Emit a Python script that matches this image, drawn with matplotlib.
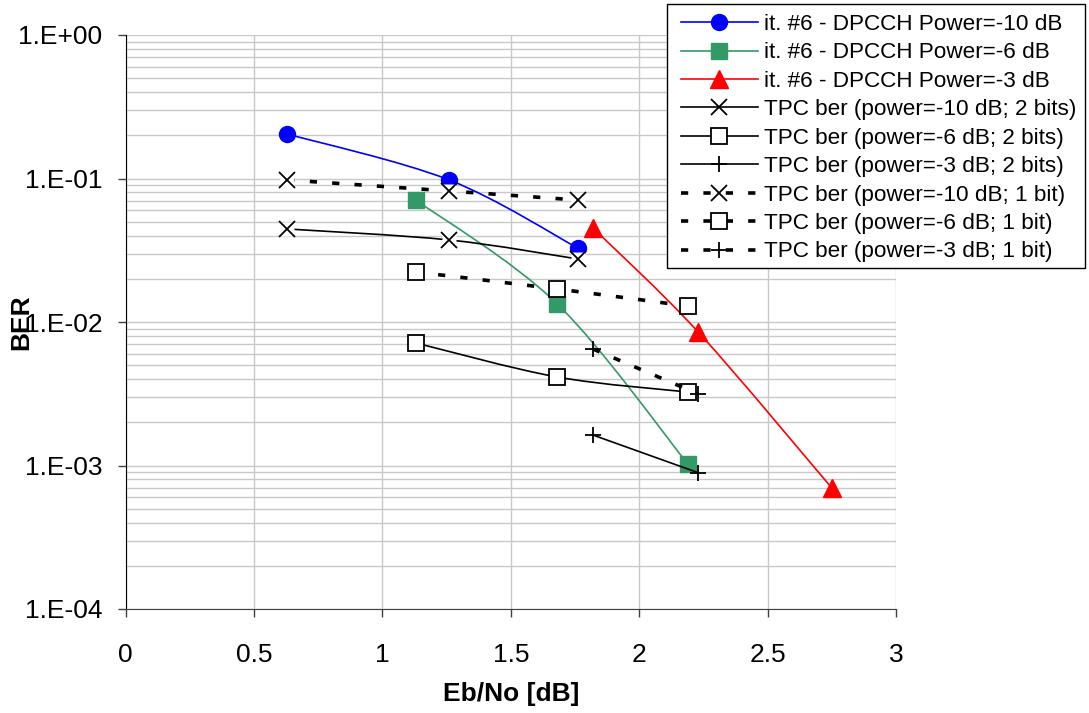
import numpy as np
import matplotlib
matplotlib.use("Agg")
import matplotlib.pyplot as plt
from matplotlib.path import Path
from matplotlib.patches import PathPatch, Rectangle
from matplotlib.lines import Line2D
from matplotlib.ticker import FixedLocator, LogLocator, NullFormatter

plt.rcParams['font.family'] = ['Liberation Sans', 'DejaVu Sans']

# ---------------- data ----------------
x_p10 = [0.63, 1.26, 1.76]
x_p6 = [1.13, 1.68, 2.19]
x_p3 = [1.82, 2.23, 2.75]
x_p3_tpc = [1.82, 2.23]

ber_it6_p10 = [0.204, 0.0977, 0.0328]
ber_it6_p6 = [0.0708, 0.0134, 0.00102]
ber_it6_p3 = [0.0452, 0.0085, 0.000697]

tpc2_p10 = [0.0445, 0.0373, 0.0275]
tpc2_p6 = [0.00714, 0.00414, 0.00325]
tpc2_p3 = [0.00163, 0.00089]

tpc1_p10 = [0.0977, 0.0818, 0.0708]
tpc1_p6 = [0.0223, 0.0170, 0.0129]
tpc1_p3 = [0.00648, 0.00315]

labels = [
    "it. #6 - DPCCH Power=-10 dB",
    "it. #6 - DPCCH Power=-6 dB",
    "it. #6 - DPCCH Power=-3 dB",
    "TPC ber (power=-10 dB; 2 bits)",
    "TPC ber (power=-6 dB; 2 bits)",
    "TPC ber (power=-3 dB; 2 bits)",
    "TPC ber (power=-10 dB; 1 bit)",
    "TPC ber (power=-6 dB; 1 bit)",
    "TPC ber (power=-3 dB; 1 bit)",
]
xticks = [0, 0.5, 1, 1.5, 2, 2.5, 3]
xticklabels = ["0", "0.5", "1", "1.5", "2", "2.5", "3"]
yticks = [1e0, 1e-1, 1e-2, 1e-3, 1e-4]
yticklabels = ["1.E+00", "1.E-01", "1.E-02", "1.E-03", "1.E-04"]

# ---------------- figure ----------------
W, H = 1089, 713
fig = plt.figure(figsize=(W / 100, H / 100), dpi=100)
ax = fig.add_axes([125.7 / W, 1 - 609 / H, (896 - 125.7) / W, (609 - 35) / H])
ax.set_yscale('log')
ax.set_xlim(0, 3)
ax.set_ylim(1e-4, 1)

grid_c = '#c8c8c8'
ax.xaxis.set_major_locator(FixedLocator(xticks))
ax.set_xticklabels(xticklabels)
ax.yaxis.set_major_locator(FixedLocator(yticks))
ax.set_yticklabels(yticklabels)
ax.yaxis.set_minor_locator(LogLocator(base=10, subs=np.arange(2, 10)))
ax.yaxis.set_minor_formatter(NullFormatter())
ax.grid(True, which='major', axis='both', color=grid_c, lw=1.0)
ax.grid(True, which='minor', axis='y', color=grid_c, lw=1.0)
ax.set_axisbelow(True)
ax.tick_params(axis='both', which='major', direction='out', length=6, width=1,
               labelsize=19, color='#404040')
ax.tick_params(axis='y', which='major', pad=10.8)
ax.tick_params(axis='x', which='major', pad=18.5)
ax.tick_params(axis='y', which='minor', length=0)
for s in ['top', 'right']:
    ax.spines[s].set_visible(False)
ax.spines['left'].set_color('black')
ax.spines['bottom'].set_color('#404040')

ax.set_xlabel("Eb/No [dB]", fontsize=19, fontweight='bold')
ax.set_ylabel("BER", fontsize=19, fontweight='bold')
ax.xaxis.set_label_coords(0.5, -0.127)
ax.yaxis.set_label_coords(-0.120, 0.5)


def smooth_path(xs, ys):
    lx = np.asarray(xs, float)
    ly = np.log10(np.asarray(ys, float))
    n = len(lx)
    verts = [(lx[0], ly[0])]
    codes = [Path.MOVETO]
    for i in range(n - 1):
        p0 = i - 1 if i > 0 else i
        p3 = i + 2 if i + 2 < n else i + 1
        c1 = (lx[i] + (lx[i + 1] - lx[p0]) / 6, ly[i] + (ly[i + 1] - ly[p0]) / 6)
        c2 = (lx[i + 1] - (lx[p3] - lx[i]) / 6, ly[i + 1] - (ly[p3] - ly[i]) / 6)
        verts += [c1, c2, (lx[i + 1], ly[i + 1])]
        codes += [Path.CURVE4] * 3
    verts = np.array(verts)
    verts[:, 1] = 10 ** verts[:, 1]
    return Path(verts, codes)


dots = (0, (2.0, 4.2))
series = [
    # x, y, color, lw, ls, marker, ms, mfc, mec, mew, whitebg
    (x_p10, ber_it6_p10, '#0000ff', 1.2, '-', 'o', 11.5, '#0000ff', '#0000ff', 1.0, False),
    (x_p6, ber_it6_p6, '#339966', 1.2, '-', 's', 11.5, '#339966', '#339966', 1.0, False),
    (x_p3, ber_it6_p3, '#ff0000', 1.2, '-', '^', 12.5, '#ff0000', '#ff0000', 1.0, False),
    (x_p10, tpc2_p10, 'black', 1.2, '-', 'x', 11, 'none', 'black', 1.3, True),
    (x_p6, tpc2_p6, 'black', 1.2, '-', 's', 11, 'white', 'black', 1.3, False),
    (x_p3_tpc, tpc2_p3, 'black', 1.2, '-', '+', 12, 'none', 'black', 1.3, False),
    (x_p10, tpc1_p10, 'black', 2.6, dots, 'x', 11, 'none', 'black', 1.3, True),
    (x_p6, tpc1_p6, 'black', 2.6, dots, 's', 11, 'white', 'black', 1.3, False),
    (x_p3_tpc, tpc1_p3, 'black', 2.6, dots, '+', 12, 'none', 'black', 1.3, False),
]

handles = []
for k, (xs, ys, c, lw, ls, mk, ms, mfc, mec, mew, wbg) in enumerate(series):
    z = 3 + k
    patch = PathPatch(smooth_path(xs, ys), fill=False, edgecolor=c, lw=lw,
                      linestyle=ls, transform=ax.transData, zorder=z, capstyle='butt')
    ax.add_patch(patch)
    if wbg:
        ax.plot(xs, ys, linestyle='none', marker='s', ms=ms * 0.95, mfc='white',
                mec='none', zorder=z + 0.3)
    ax.plot(xs, ys, linestyle='none', marker=mk, ms=ms, mfc=mfc, mec=mec,
            mew=mew, zorder=z + 0.5)
    handles.append(Line2D([], [], color=c, lw=lw, linestyle=ls, marker=mk, ms=ms,
                          mfc=mfc if mfc != 'none' else 'white', mec=mec, mew=mew,
                          dash_capstyle='butt'))

# legend frame drawn as a figure rectangle (Excel style box)
frame = Rectangle((667 / W, 1 - 268 / H), (1085 - 667) / W, (268 - 4) / H,
                  transform=fig.transFigure, facecolor='white', edgecolor='black',
                  lw=1.0, zorder=20)
fig.patches.append(frame)

leg = fig.legend(handles, labels, loc='upper left',
                 bbox_to_anchor=(681 / W, 1 - 14 / H), borderaxespad=0,
                 fontsize=16.2, frameon=False, handlelength=3.4, handletextpad=0.3,
                 labelspacing=0.33, borderpad=0.0)
leg.set_zorder(21)

fig.savefig("out.png", dpi=100)
